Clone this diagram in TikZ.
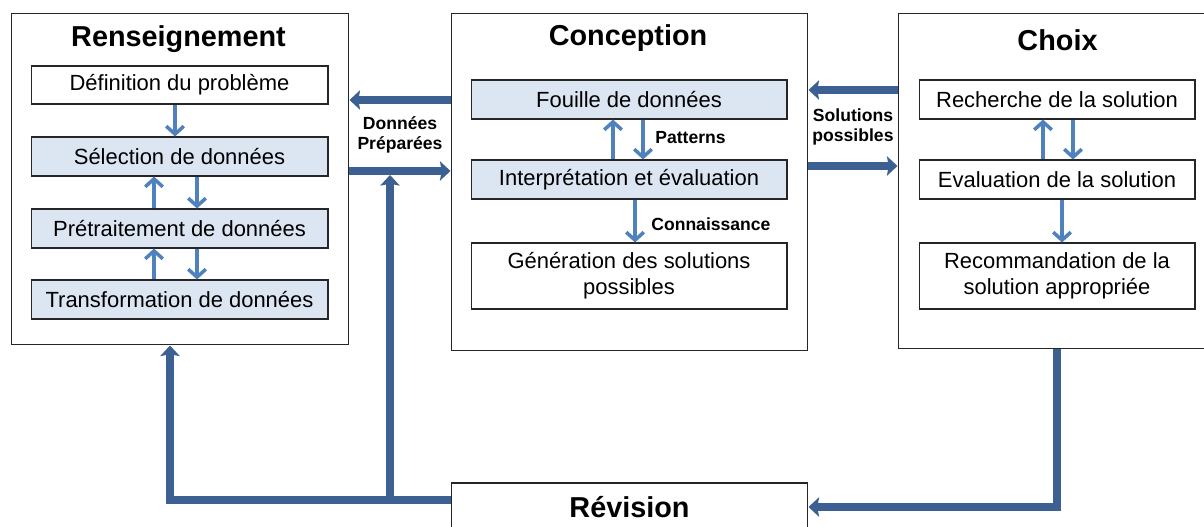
\documentclass[tikz,border=0pt]{standalone}
\usepackage{fontspec}
\setmainfont{Liberation Sans}
\usetikzlibrary{arrows.meta,calc}
\definecolor{boxfill}{RGB}{220,230,242}
\definecolor{smallarr}{RGB}{79,129,189}
\definecolor{bigarr}{RGB}{60,96,145}

\begin{document}
\begin{tikzpicture}[x=0.02cm, y=-0.02cm,
  phase/.style={draw=black!85, line width=0.6pt, fill=white, inner sep=0pt},
  stage/.style={draw=black!85, line width=0.6pt, fill=boxfill, inner sep=0pt, align=center, font=\fontsize{12.5}{15}\selectfont},
  plain/.style={stage, fill=white},
  ttl/.style={font=\fontsize{16.4}{19}\selectfont\bfseries},
  lbl/.style={inner sep=0pt, align=center, font=\fontsize{10}{11.3}\selectfont\bfseries},
  small/.style={-{Straight Barb[length=4.5pt,width=10pt]}, line width=2pt, smallarr},
  big/.style={-{Stealth[length=6pt,width=11pt,inset=1pt]}, line width=4.2pt, bigarr}]

\useasboundingbox (0,0) rectangle (1204,527);

% phases
\node[phase, minimum width=6.76cm, minimum height=6.64cm] at (180,179) (Rens) {};
\node[phase, minimum width=7.14cm, minimum height=6.76cm] at (629.5,182) (Conc) {};
\node[phase, minimum width=6.28cm, minimum height=6.72cm] at (1055,181) (Choix) {};
\node[phase, ttl, minimum width=7.14cm, minimum height=0.96cm] at (629.5,507) (Rev) {Révision};

\node[ttl] at (178.5,39) (RensT) {Renseignement};
\node[ttl] at (628,38) (ConcT) {Conception};
\node[ttl] at (1057.5,40) (ChoixT) {Choix};

% Renseignement
\node[plain, minimum width=5.94cm, minimum height=0.76cm] at (179.5,85) (Def) {Définition du problème};
\node[stage, minimum width=5.94cm, minimum height=0.78cm] at (179.5,156.5) (Sel) {Sélection de données};
\node[stage, minimum width=5.94cm, minimum height=0.78cm] at (179.5,228.5) (Pre) {Prétraitement de données};
\node[stage, minimum width=5.94cm, minimum height=0.78cm] at (179.5,299.5) (Trans) {Transformation de données};

\draw[small] ($(Def.south)+(-4.5,0)$) -- ($(Sel.north)+(-4.5,0)$);
\draw[small] ($(Pre.north)+(-25.5,0)$) -- ($(Sel.south)+(-25.5,0)$);
\draw[small] ($(Sel.south)+(17.5,0)$) -- ($(Pre.north)+(17.5,0)$);
\draw[small] ($(Trans.north)+(-25.5,0)$) -- ($(Pre.south)+(-25.5,0)$);
\draw[small] ($(Pre.south)+(17.5,0)$) -- ($(Trans.north)+(17.5,0)$);

% Conception
\node[stage, minimum width=6.32cm, minimum height=0.78cm] at (629,99.5) (Fouille) {Fouille de données};
\node[stage, minimum width=6.32cm, minimum height=0.78cm] at (629,179.5) (Interp) {Interprétation et évaluation};
\node[plain, minimum width=6.32cm, minimum height=1.32cm] at (629,276) (Gen) {Génération des solutions\\possibles};

\draw[small] ($(Interp.north)+(-16,0)$) -- ($(Fouille.south)+(-16,0)$);
\draw[small] ($(Fouille.south)+(14,0)$) -- ($(Interp.north)+(14,0)$);
\draw[small] ($(Interp.south)+(6,0)$) -- ($(Gen.north)+(6,0)$);
\node[lbl, anchor=west] at (655,138) (Pat) {Patterns};
\node[lbl, anchor=west] at (651,224) (Conn) {Connaissance};

% Choix
\node[plain, minimum width=5.52cm, minimum height=0.78cm] at (1057,99.5) (Rech) {Recherche de la solution};
\node[plain, minimum width=5.52cm, minimum height=0.78cm] at (1057,179.5) (Eval) {Evaluation de la solution};
\node[plain, minimum width=5.52cm, minimum height=1.32cm] at (1057,276) (Rec) {Recommandation de la\\solution appropriée};

\draw[small] ($(Eval.north)+(-14,0)$) -- ($(Rech.south)+(-14,0)$);
\draw[small] ($(Rech.south)+(16,0)$) -- ($(Eval.north)+(16,0)$);
\draw[small] ($(Eval.south)+(5,0)$) -- ($(Rec.north)+(5,0)$);

% between phases
\node[lbl] at (400,135) (DP) {Données\\Préparées};
\node[lbl] at (853,127) (SP) {Solutions\\possibles};
\coordinate (DPin) at ($(Rens.east)+(0,-8)$);
\draw[big] ($(Conc.west)+(0,-82)$) -- ($(Rens.east)+(0,-79)$);
\draw[big] (DPin) -- ($(Conc.west)+(0,-11)$);
\draw[big] ($(Choix.west)+(0,-91)$) -- ($(Conc.east)+(0,-92)$);
\draw[big] ($(Conc.east)+(0,-16)$) -- ($(Choix.west)+(0,-15)$);

% revision loop
\coordinate (J) at (390,500);
\draw[big] ($(Rev.west)+(0,-7)$) -| ($(Rens.south)+(-10,0)$);
\draw[big] (J) -- ($(J |- DPin)+(0,4)$);
\draw[big] (Rec |- Choix.south) |- (Rev.east);

\end{tikzpicture}
\end{document}
